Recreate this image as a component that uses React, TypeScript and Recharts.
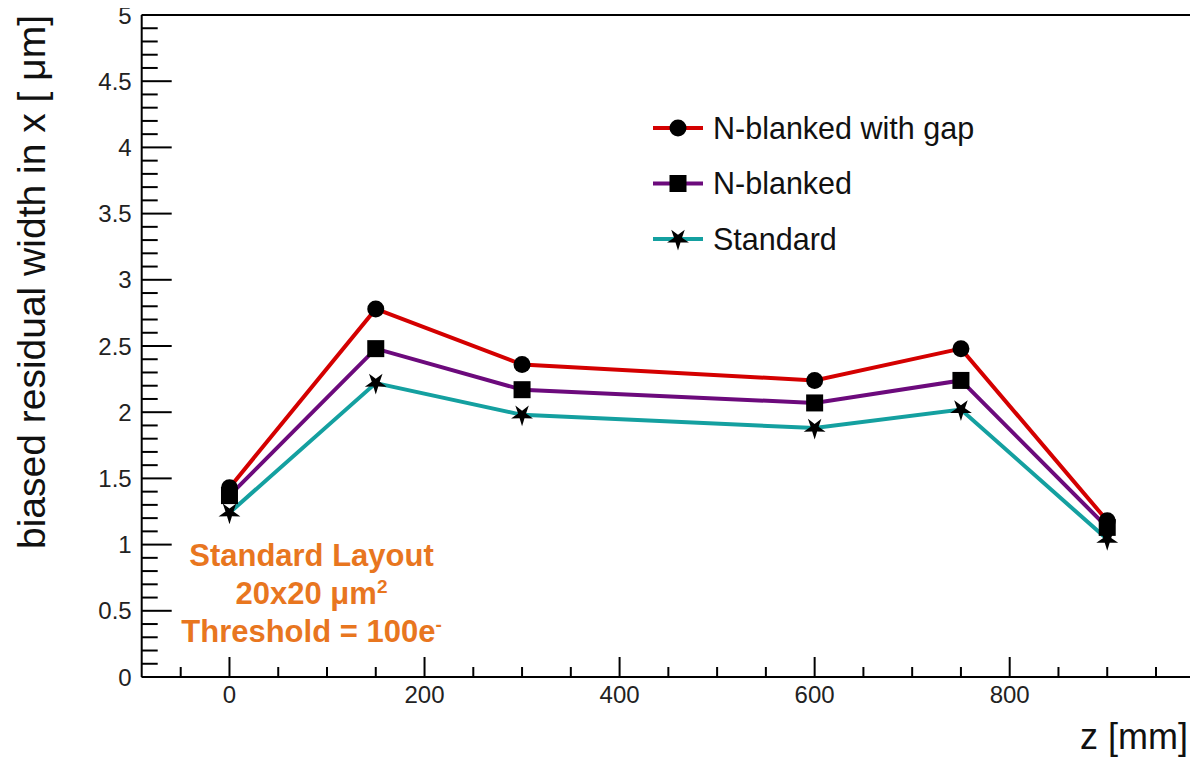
import React from 'react';
import { LineChart, Line, XAxis, YAxis, ReferenceLine } from 'recharts';

// ---- data ----
const zValues = [0, 150, 300, 600, 750, 900];
const nBlankedWithGap = [1.43, 2.78, 2.36, 2.24, 2.48, 1.18];
const nBlanked = [1.37, 2.48, 2.17, 2.07, 2.24, 1.13];
const standardLayout = [1.24, 2.22, 1.98, 1.88, 2.02, 1.04];

const seriesNames = ['N-blanked with gap', 'N-blanked', 'Standard'];
const xTicks = [-50, 0, 50, 100, 150, 200, 250, 300, 350, 400, 450, 500, 550, 600, 650, 700, 750, 800, 850, 900, 950];
const yTicks = Array.from({ length: 51 }, (_, i) => i / 10);
const annotationLines = ['Standard Layout', '20x20 μm', 'Threshold = 100e'];
const annotationSups = ['', '2', '-'];

const data = zValues.map((z, i) => ({
  z,
  gap: nBlankedWithGap[i],
  blanked: nBlanked[i],
  standard: standardLayout[i],
}));

// ---- styles ----
const W = 1198;
const H = 759;
const FONT = '"Liberation Sans", Arial, Helvetica, sans-serif';
const RED = '#d40000';
const PURPLE = '#6c0a7c';
const TEAL = '#14a0a0';
const ORANGE = '#e8761f';

const circleMarker = (cx: number, cy: number, key?: any) => (
  <circle key={key} cx={cx} cy={cy} r={8.5} fill="#000" />
);
const squareMarker = (cx: number, cy: number, key?: any) => (
  <rect key={key} x={cx - 8.5} y={cy - 8.5} width={17} height={17} fill="#000" />
);
const starMarker = (cx: number, cy: number, key?: any) => {
  const pts: string[] = [];
  for (let i = 0; i < 10; i++) {
    const r = i % 2 === 0 ? 11.5 : 4.2;
    const a = Math.PI / 2 + (i * Math.PI) / 5;
    pts.push(`${cx + r * Math.cos(a)},${cy + r * Math.sin(a)}`);
  }
  return <polygon key={key} points={pts.join(' ')} fill="#000" />;
};

const mkDot = (fn: (cx: number, cy: number, key?: any) => any) => (p: any) => {
  if (p.cx == null || p.cy == null) return <g key={p.key} />;
  return fn(p.cx, p.cy, p.key);
};

const XTick = (props: any) => {
  const { x, y, payload } = props;
  const v = payload.value;
  const major = Math.abs(v % 200) < 1e-6;
  return (
    <g>
      <line x1={x} y1={y} x2={x} y2={y - (major ? 20 : 10)} stroke="#000" strokeWidth={2} />
      {major && (
        <text x={x} y={y + 26} textAnchor="middle" fontSize={24} fontFamily={FONT} fill="#222">
          {v}
        </text>
      )}
    </g>
  );
};

const YTick = (props: any) => {
  const { x, y, payload } = props;
  const v = payload.value;
  const major = Math.abs(v * 2 - Math.round(v * 2)) < 1e-6;
  return (
    <g>
      <line x1={x} y1={y} x2={x + (major ? 30 : 16)} y2={y} stroke="#000" strokeWidth={2} />
      {major && (
        <text x={x - 10} y={y} dy="0.36em" textAnchor="end" fontSize={24} fontFamily={FONT} fill="#222">
          {String(Number(v.toFixed(1)))}
        </text>
      )}
    </g>
  );
};

const legendItems = [
  { name: seriesNames[0], color: RED, marker: circleMarker },
  { name: seriesNames[1], color: PURPLE, marker: squareMarker },
  { name: seriesNames[2], color: TEAL, marker: starMarker },
];

export default function App() {
  return (
    <div style={{ position: 'relative', left: -8, top: -8, width: W, height: H }}>
      <LineChart
        width={W}
        height={H}
        data={data}
        margin={{ top: 15, right: 3, bottom: 32, left: 41.7 }}
      >
        <XAxis
          dataKey="z"
          type="number"
          domain={[-90, 990]}
          allowDataOverflow
          ticks={xTicks}
          interval={0}
          height={50}
          tickSize={0}
          tickMargin={0}
          tickLine={false}
          axisLine={{ stroke: '#000', strokeWidth: 2 }}
          tick={(p: any) => <XTick {...p} />}
        />
        <YAxis
          type="number"
          domain={[0, 5]}
          allowDataOverflow
          ticks={yTicks}
          interval={0}
          width={100}
          tickSize={0}
          tickMargin={0}
          tickLine={false}
          axisLine={{ stroke: '#000', strokeWidth: 2 }}
          tick={(p: any) => <YTick {...p} />}
        />
        <ReferenceLine y={5} stroke="#000" strokeWidth={2} ifOverflow="visible" />
        <ReferenceLine x={990} stroke="#000" strokeWidth={2} ifOverflow="visible" />
        <Line
          dataKey="standard"
          name={seriesNames[2]}
          stroke={TEAL}
          strokeWidth={4}
          dot={mkDot(starMarker)}
          activeDot={false}
          isAnimationActive={false}
        />
        <Line
          dataKey="blanked"
          name={seriesNames[1]}
          stroke={PURPLE}
          strokeWidth={4}
          dot={mkDot(squareMarker)}
          activeDot={false}
          isAnimationActive={false}
        />
        <Line
          dataKey="gap"
          name={seriesNames[0]}
          stroke={RED}
          strokeWidth={4}
          dot={mkDot(circleMarker)}
          activeDot={false}
          isAnimationActive={false}
        />
      </LineChart>
      <svg
        width={W}
        height={H}
        style={{ position: 'absolute', left: 0, top: 0, pointerEvents: 'none' }}
      >
        {/* y axis title */}
        <text
          x={45}
          y={15}
          transform="rotate(-90 45 15)"
          textAnchor="end"
          fontSize={39}
          fontFamily={FONT}
          fill="#111"
        >
          biased residual width in x [ μm]
        </text>
        {/* x axis title */}
        <text x={1188} y={749} textAnchor="end" fontSize={36} fontFamily={FONT} fill="#111">
          z [mm]
        </text>
        {/* legend */}
        {legendItems.map((it, i) => {
          const cy = 128 + i * 55.5;
          return (
            <g key={it.name}>
              <line x1={653} y1={cy} x2={703} y2={cy} stroke={it.color} strokeWidth={4} />
              {it.marker(678, cy)}
              <text x={713} y={cy + 10.5} fontSize={30.5} fontFamily={FONT} fill="#111">
                {it.name}
              </text>
            </g>
          );
        })}
        {/* annotation */}
        {annotationLines.map((t, i) => (
          <text
            key={t}
            x={311.5}
            y={566 + i * 37.8}
            textAnchor="middle"
            fontSize={31}
            fontWeight="bold"
            fontFamily={FONT}
            fill={ORANGE}
          >
            {t}
            {annotationSups[i] && (
              <tspan fontSize={19} dy={-11}>
                {annotationSups[i]}
              </tspan>
            )}
          </text>
        ))}
      </svg>
    </div>
  );
}
